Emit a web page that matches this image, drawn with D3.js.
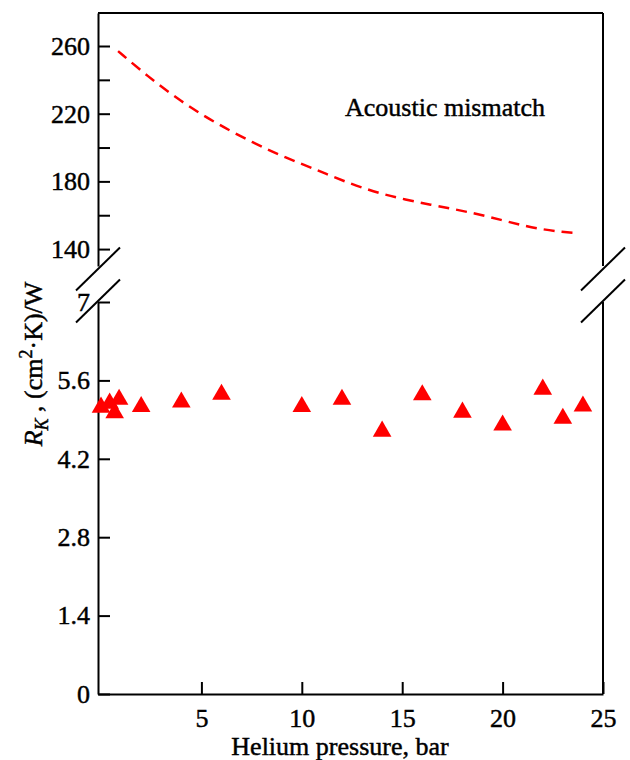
<!DOCTYPE html>
<html>
<head>
<meta charset="utf-8">
<script src="https://cdn.jsdelivr.net/npm/d3@7"></script>
<style>
  body { margin: 0; background: #fff; }
  svg text { font-family: "Liberation Serif", "Times New Roman", Times, "DejaVu Serif", serif; fill: #000; stroke: #000; stroke-width: 0.45px; }
</style>
</head>
<body>
<svg></svg>
<script>
// measured thermal resistance (triangles)
const pressure = [0, 0.43, 0.68, 0.9, 2, 4, 6, 10, 12, 14, 16, 18, 20, 22, 23, 24];
const rk = [5.12, 5.19, 5.02, 5.26, 5.13, 5.21, 5.35, 5.13, 5.26, 4.69, 5.34, 5.03, 4.80, 5.44, 4.92, 5.14];

// acoustic mismatch model (dashed curve)
const amPressure = [0.85, 2.3, 4, 5.7, 7.6, 9.2, 10.8, 12, 14, 16.5, 18.5, 20, 21, 22, 23, 23.7];
const amRk = [257, 242.3, 227, 214.5, 202.6, 194, 186.5, 180.5, 172, 166, 161.5, 157, 154, 151.6, 150, 149.5];

const xTicks = [5, 10, 15, 20, 25];
const upperTicks = [140, 180, 220, 260];
const upperMinor = [160, 200, 240];
const lowerTicks = [0, 1.4, 2.8, 4.2, 5.6, 7];

const width = 630;
const height = 760;
const svg = d3.select("svg")
    .attr("width", width)
    .attr("height", height);

const margin = { top: 13, right: 27, bottom: 66, left: 98 };
const x0 = margin.left, x1 = width - margin.right;
const yTop = margin.top, yBottom = height - margin.bottom;
const breakTop = 266, breakBottom = 302;
const serif = '"Liberation Serif", "Times New Roman", Times, "DejaVu Serif", serif';

const x = d3.scaleLinear().domain([-0.15, 25]).range([x0, x1]);
const yUp = d3.scaleLinear().domain([130, 279.5]).range([breakTop, yTop]);
const yLow = d3.scaleLinear().domain([0, 7]).range([yBottom, breakBottom]);

const fs = 26;

// frame lines
const frame = svg.append("g").attr("stroke", "#000").attr("stroke-width", 2).attr("fill", "none");
frame.append("line").attr("x1", x0).attr("x2", x1).attr("y1", yTop).attr("y2", yTop);
frame.append("line").attr("x1", x1).attr("x2", x1).attr("y1", yTop).attr("y2", breakTop);
frame.append("line").attr("x1", x1).attr("x2", x1).attr("y1", breakBottom).attr("y2", yBottom);

// break marks
[x0, x1].forEach(ax => {
    [breakTop + 3, breakBottom - 1].forEach(cy => {
        frame.append("line")
            .attr("x1", ax - 22).attr("y1", cy + 21.5)
            .attr("x2", ax + 22).attr("y2", cy - 21.5);
    });
});

function styleAxis(g) {
    g.attr("font-family", serif);
    g.select(".domain").attr("stroke-width", 2);
    g.selectAll(".tick line").attr("stroke-width", 2);
    g.selectAll(".tick text")
        .attr("font-family", serif)
        .attr("font-size", fs);
}

// x axis
svg.append("g")
    .attr("transform", `translate(0,${yBottom})`)
    .call(d3.axisBottom(x).tickValues(xTicks).tickSizeInner(-12).tickSizeOuter(0).tickPadding(15))
    .call(styleAxis);

// upper y axis
svg.append("g")
    .attr("transform", `translate(${x0},0)`)
    .call(d3.axisLeft(yUp).tickValues(upperTicks).tickSizeInner(-12).tickSizeOuter(0).tickPadding(8))
    .call(styleAxis);
svg.append("g")
    .attr("transform", `translate(${x0},0)`)
    .call(d3.axisLeft(yUp).tickValues(upperMinor).tickSizeInner(-12).tickSizeOuter(0).tickFormat(""))
    .call(styleAxis)
    .select(".domain").remove();

// lower y axis
svg.append("g")
    .attr("transform", `translate(${x0},0)`)
    .call(d3.axisLeft(yLow).tickValues(lowerTicks).tickSizeInner(-12).tickSizeOuter(0).tickPadding(8)
        .tickFormat(d => d === 0 || d === 7 ? d : d3.format(".1f")(d)))
    .call(styleAxis);

// dashed curve
const line = d3.line()
    .x((d, i) => x(amPressure[i]))
    .y(d => yUp(d))
    .curve(d3.curveBasis);
svg.append("path")
    .datum(amRk)
    .attr("d", line)
    .attr("fill", "none")
    .attr("stroke", "#ff0000")
    .attr("stroke-width", 2.5)
    .attr("stroke-dasharray", "11,7");

// triangles
svg.append("g").selectAll("path")
    .data(rk)
    .join("path")
    .attr("transform", (d, i) => `translate(${x(pressure[i])},${yLow(d)})`)
    .attr("d", d3.symbol(d3.symbolTriangle, 150))
    .attr("fill", "#ff0000");

// annotation
svg.append("text")
    .attr("x", 345).attr("y", 116)
    .attr("font-family", serif)
    .attr("font-size", 26)
    .text("Acoustic mismatch");

// axis labels
svg.append("text")
    .attr("x", 340).attr("y", 755)
    .attr("text-anchor", "middle")
    .attr("font-family", serif)
    .attr("font-size", 26)
    .text("Helium pressure, bar");

const yl = svg.append("text")
    .attr("transform", "translate(42,364) rotate(-90)")
    .attr("text-anchor", "middle")
    .attr("font-family", serif)
    .attr("font-size", 26);
yl.append("tspan").attr("font-style", "italic").text("R");
yl.append("tspan").attr("font-style", "italic").attr("font-size", 18).attr("dy", 6).text("K");
yl.append("tspan").attr("dy", -6).text(" , (cm");
yl.append("tspan").attr("font-size", 18).attr("dy", -10).text("2");
yl.append("tspan").attr("dy", 10).text("·K)/W");
</script>
</body>
</html>
